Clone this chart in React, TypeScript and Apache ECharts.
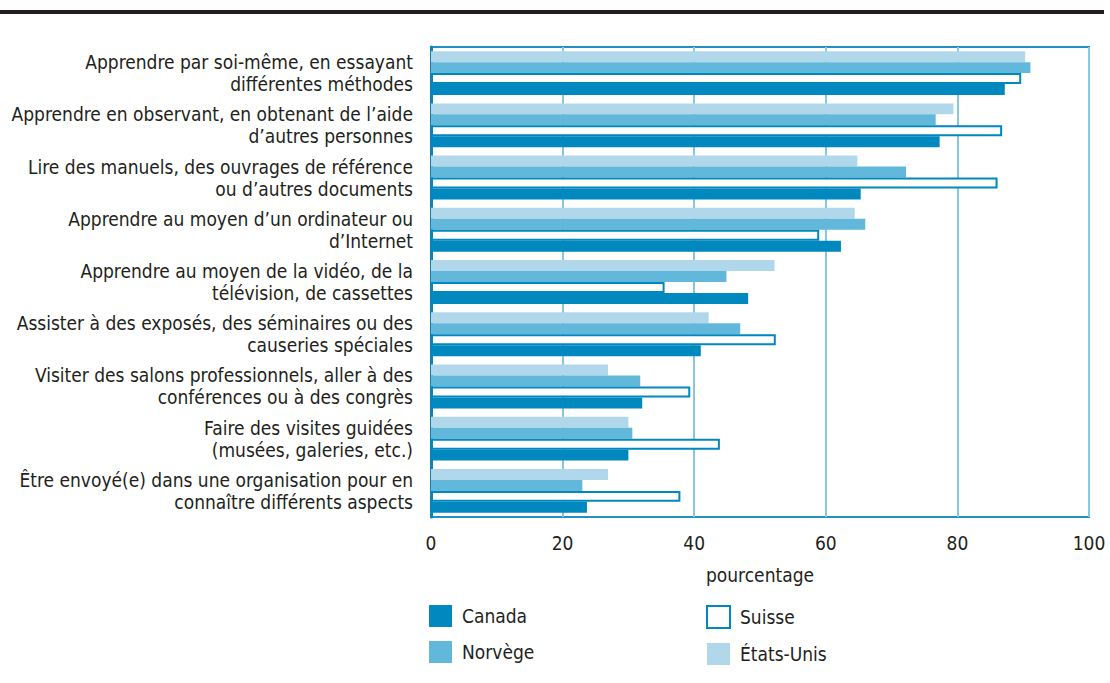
import React, { useEffect, useRef } from "react";
import * as echarts from "echarts";

const categories = [
  "Apprendre par soi-même, en essayant\ndifférentes méthodes",
  "Apprendre en observant, en obtenant de l’aide\nd’autres personnes",
  "Lire des manuels, des ouvrages de référence\nou d’autres documents",
  "Apprendre au moyen d’un ordinateur ou\nd’Internet",
  "Apprendre au moyen de la vidéo, de la\ntélévision, de cassettes",
  "Assister à des exposés, des séminaires ou des\ncauseries spéciales",
  "Visiter des salons professionnels, aller à des\nconférences ou à des congrès",
  "Faire des visites guidées\n(musées, galeries, etc.)",
  "Être envoyé(e) dans une organisation pour en\nconnaître différents aspects",
];
const canada = [87.2, 77.3, 65.3, 62.3, 48.2, 41.0, 32.1, 30.0, 23.7];
const norvege = [91.1, 76.7, 72.2, 66.0, 44.9, 47.0, 31.8, 30.6, 23.0];
const suisse = [89.7, 86.8, 86.1, 59.0, 35.5, 52.4, 39.4, 43.9, 37.9];
const etatsUnis = [90.3, 79.4, 64.8, 64.4, 52.2, 42.2, 26.9, 30.0, 26.9];
const xTicks = [0, 20, 40, 60, 80, 100];

const FONT = "'Liberation Sans Narrow', 'DejaVu Sans Condensed', sans-serif";
const TEXT = "#231f20";
const DARK = "#0088bf";
const MID = "#62b8da";
const LIGHT = "#b0d8ea";

export default function App() {
  const ref = useRef<HTMLDivElement>(null);
  useEffect(() => {
    document.body.style.margin = "0";
    const chart = echarts.init(ref.current!, undefined, { renderer: "svg" });
    chart.setOption({
      animation: false,
      textStyle: { fontFamily: FONT, color: TEXT },
      graphic: [
        { type: "rect", shape: { x: 0, y: 10, width: 1104, height: 4 }, style: { fill: TEXT } },
      ],
      grid: {
        left: 431,
        right: 21,
        top: 47,
        bottom: 166,
        show: true,
        borderColor: "#2090c5",
        borderWidth: 2,
        containLabel: false,
        outerBoundsMode: "none",
      },
      xAxis: {
        type: "value",
        min: xTicks[0],
        max: xTicks[xTicks.length - 1],
        interval: 20,
        axisLine: { show: false },
        axisTick: { show: false },
        splitLine: { show: true, lineStyle: { color: "#86c8e4", width: 2 } },
        axisLabel: { fontSize: 19, color: TEXT, fontFamily: FONT, margin: 16 },
        name: "pourcentage",
        nameLocation: "middle",
        nameGap: 48,
        nameTextStyle: { fontSize: 19, color: TEXT, fontFamily: FONT },
      },
      yAxis: {
        type: "category",
        data: categories,
        inverse: true,
        axisLine: { show: true, lineStyle: { color: DARK, width: 3 } },
        axisTick: { show: false },
        axisLabel: {
          fontSize: 19,
          color: TEXT,
          fontFamily: FONT,
          margin: 18,
          lineHeight: 22,
          align: "right",
        },
      },
      legend: [
        {
          orient: "vertical",
          left: 424,
          top: 600,
          itemWidth: 23,
          itemHeight: 22,
          itemGap: 14,
          icon: "rect",
          textStyle: { fontSize: 19, color: TEXT, fontFamily: FONT, padding: [0, 0, 0, 5] },
          data: ["Canada", "Norvège"],
        },
        {
          orient: "vertical",
          left: 701,
          top: 600,
          itemWidth: 23,
          itemHeight: 22,
          itemGap: 14,
          icon: "rect",
          textStyle: { fontSize: 19, color: TEXT, fontFamily: FONT, padding: [0, 0, 0, 5] },
          data: [
            { name: "Suisse", itemStyle: { color: "#ffffff", borderColor: DARK, borderWidth: 2 } },
            "États-Unis",
          ],
        },
      ],
      series: [
        { name: "États-Unis", type: "bar", data: etatsUnis, barGap: "0%", barCategoryGap: "16%", itemStyle: { color: LIGHT } },
        { name: "Norvège", type: "bar", data: norvege, itemStyle: { color: MID } },
        { name: "Suisse", type: "bar", data: suisse, itemStyle: { color: "#ffffff", borderColor: DARK, borderWidth: 2 } },
        { name: "Canada", type: "bar", data: canada, itemStyle: { color: DARK } },
      ],
    });
    return () => chart.dispose();
  }, []);
  return <div ref={ref} style={{ width: 1110, height: 683 }} />;
}
